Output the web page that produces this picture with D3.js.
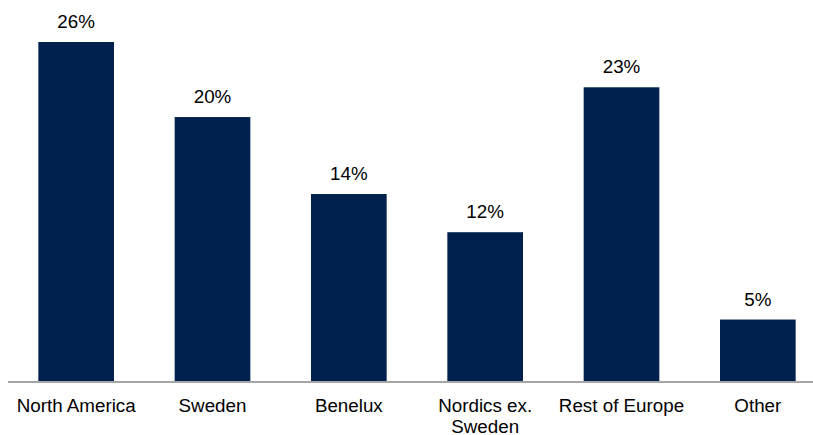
<!DOCTYPE html>
<html>
<head>
<meta charset="utf-8">
<script src="https://cdn.jsdelivr.net/npm/d3@7"></script>
<style>
  body { margin: 0; background: #fff; }
  svg text { font-family: "Liberation Sans", Arial, sans-serif; font-size: 18.8px; fill: #000; }
</style>
</head>
<body>
<div id="chart"></div>
<script>
// share of sales by region, %
var categories = ["North America", "Sweden", "Benelux", "Nordics ex.\nSweden", "Rest of Europe", "Other"];
var values = [26.2, 20.4, 14.45, 11.5, 22.7, 4.75];
var labels = ["26%", "20%", "14%", "12%", "23%", "5%"];

var width = 813, height = 435;
var barColor = "#00214e";

var svg = d3.select("#chart").append("svg")
  .attr("width", width).attr("height", height);

var x = d3.scaleBand()
  .domain(categories)
  .range([8, 826])
  .paddingInner(0.445)
  .paddingOuter(0.2225);

var y = d3.scaleLinear()
  .domain([0, d3.max(values)])
  .range([381, 42]);

var data = categories.map(function(c, i) { return {cat: c, v: values[i], lab: labels[i]}; });

svg.selectAll("rect.bar")
  .data(data)
  .enter().append("rect")
  .attr("class", "bar")
  .attr("x", function(d) { return x(d.cat); })
  .attr("y", function(d) { return y(d.v); })
  .attr("width", x.bandwidth())
  .attr("height", function(d) { return y(0) - y(d.v); })
  .attr("fill", barColor);

// value labels
svg.selectAll("text.val")
  .data(data)
  .enter().append("text")
  .attr("class", "val")
  .attr("x", function(d) { return x(d.cat) + x.bandwidth() / 2; })
  .attr("y", function(d) { return y(d.v) - 14; })
  .attr("text-anchor", "middle")
  .text(function(d) { return d.lab; });

// baseline
svg.append("line")
  .attr("x1", 8).attr("x2", width)
  .attr("y1", y(0) + 1).attr("y2", y(0) + 1)
  .attr("stroke", "#a5a5a5")
  .attr("stroke-width", 2);

// category labels
var cl = svg.selectAll("text.cat")
  .data(data)
  .enter().append("text")
  .attr("class", "cat")
  .attr("text-anchor", "middle")
  .attr("x", function(d) { return x(d.cat) + x.bandwidth() / 2; })
  .attr("y", 412);

cl.selectAll("tspan")
  .data(function(d) { return d.cat.split("\n").map(function(t) { return {t: t, x: x(d.cat) + x.bandwidth() / 2}; }); })
  .enter().append("tspan")
  .attr("x", function(d) { return d.x; })
  .attr("dy", function(d, i) { return i ? 20.5 : 0; })
  .text(function(d) { return d.t; });
</script>
</body>
</html>
